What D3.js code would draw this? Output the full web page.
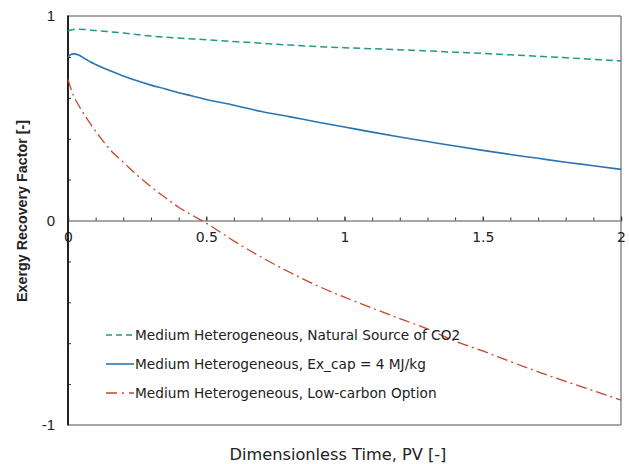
<!DOCTYPE html>
<html>
<head>
<meta charset="utf-8">
<script src="https://cdn.jsdelivr.net/npm/d3@7/dist/d3.min.js"></script>
<style>
  html, body { margin: 0; padding: 0; background: #fff; }
  svg { display: block; }
</style>
</head>
<body>
<svg id="chart" width="629" height="464"></svg>
<script>
// ---- data ----
const naturalX = [0, 0.03, 0.06, 0.1, 0.2, 0.3, 0.4, 0.5, 0.6, 0.7, 0.8, 0.9, 1.0, 1.2, 1.4, 1.5, 1.6, 1.8, 2.0];
const naturalY = [0.928, 0.935, 0.934, 0.929, 0.917, 0.902, 0.892, 0.884, 0.875, 0.867, 0.858, 0.851, 0.845, 0.835, 0.823, 0.817, 0.81, 0.796, 0.78];

const excapX = [0, 0.01, 0.02, 0.04, 0.06, 0.08, 0.1, 0.15, 0.2, 0.25, 0.3, 0.35, 0.4, 0.45, 0.5, 0.6, 0.7, 0.8, 0.9, 1.0, 1.1, 1.2, 1.3, 1.4, 1.5, 1.6, 1.7, 1.8, 1.9, 2.0];
const excapY = [0.80, 0.812, 0.815, 0.808, 0.792, 0.776, 0.763, 0.733, 0.707, 0.683, 0.662, 0.644, 0.625, 0.609, 0.592, 0.564, 0.533, 0.508, 0.482, 0.457, 0.432, 0.408, 0.386, 0.364, 0.343, 0.323, 0.304, 0.285, 0.268, 0.25];

const lowcX = [0, 0.02, 0.04, 0.08, 0.12, 0.16, 0.2, 0.25, 0.3, 0.35, 0.4, 0.45, 0.5, 0.6, 0.7, 0.8, 0.9, 1.0, 1.1, 1.2, 1.3, 1.4, 1.5, 1.6, 1.7, 1.8, 1.9, 2.0];
const lowcY = [0.69, 0.61, 0.56, 0.475, 0.4, 0.335, 0.285, 0.222, 0.165, 0.114, 0.065, 0.025, -0.013, -0.1, -0.18, -0.252, -0.318, -0.375, -0.428, -0.48, -0.53, -0.59, -0.638, -0.69, -0.74, -0.787, -0.832, -0.878];

const seriesNames = [
  "Medium Heterogeneous, Natural Source of CO2",
  "Medium Heterogeneous, Ex_cap = 4 MJ/kg",
  "Medium Heterogeneous, Low-carbon Option"
];
const xTickLabels = [0, 0.5, 1, 1.5, 2];
const xMinorTicks = [0, 0.1, 0.2, 0.3, 0.4, 0.5, 0.6, 0.7, 0.8, 0.9, 1.0, 1.1, 1.2, 1.3, 1.4, 1.5, 1.6, 1.7, 1.8, 1.9, 2.0];
const yTickLabels = [1, 0, -1];
const yMinorTicks = [-0.8, -0.6, -0.4, -0.2, 0.2, 0.4, 0.6, 0.8];
const xTitle = "Dimensionless Time, PV [-]";
const yTitle = "Exergy Recovery Factor [-]";

// ---- layout ----
const svg = d3.select("#chart");
const L = 68, R = 621, T = 16, B = 425;
const x = d3.scaleLinear().domain([0, 2]).range([L, R]);
const y = d3.scaleLinear().domain([-1, 1]).range([B, T]);

const frameColor = "#8a8a8a";
const textFont = "'DejaVu Sans', sans-serif";

// frame (top, right, bottom)
svg.append("line").attr("x1", L).attr("x2", R).attr("y1", T).attr("y2", T)
  .attr("stroke", frameColor).attr("stroke-width", 1.5);
svg.append("line").attr("x1", R).attr("x2", R).attr("y1", T).attr("y2", B)
  .attr("stroke", frameColor).attr("stroke-width", 1.5);
svg.append("line").attr("x1", L).attr("x2", R).attr("y1", B).attr("y2", B)
  .attr("stroke", frameColor).attr("stroke-width", 1.5);

// x axis at y = 0, ticks pointing up
const xMinorAxis = d3.axisTop(x).tickValues(xMinorTicks).tickSize(3).tickFormat("");
const gx = svg.append("g").attr("transform", `translate(0,${y(0)})`).call(xMinorAxis);
gx.select(".domain").attr("stroke", frameColor).attr("stroke-width", 1.5);
gx.selectAll(".tick line").attr("stroke", "#333").attr("stroke-width", 1);

const xMajorAxis = d3.axisTop(x).tickValues(xTickLabels).tickSize(4).tickFormat("");
const gx2 = svg.append("g").attr("transform", `translate(0,${y(0)})`).call(xMajorAxis);
gx2.select(".domain").remove();
gx2.selectAll(".tick line").attr("stroke", "#333").attr("stroke-width", 1.2);

// x tick labels below axis line
const xLabelAxis = d3.axisBottom(x).tickValues(xTickLabels).tickSize(0).tickPadding(12)
  .tickFormat(d => String(d));
const gxl = svg.append("g").attr("transform", `translate(0,${y(0)})`).call(xLabelAxis);
gxl.select(".domain").remove();
gxl.selectAll(".tick text").attr("font-family", textFont).attr("font-size", 14).attr("fill", "#222");

// y axis (left)
const yMinorAxis = d3.axisRight(y).tickValues(yMinorTicks).tickSize(3).tickFormat("");
const gy = svg.append("g").attr("transform", `translate(${L},0)`).call(yMinorAxis);
gy.select(".domain").remove();
gy.selectAll(".tick line").attr("stroke", "#333").attr("stroke-width", 1);

const yLabelAxis = d3.axisLeft(y).tickValues(yTickLabels).tickSize(0).tickPadding(13)
  .tickFormat(d => String(d));
const gyl = svg.append("g").attr("transform", `translate(${L},0)`).call(yLabelAxis);
gyl.select(".domain").remove();
gyl.selectAll(".tick text").attr("font-family", "'Liberation Sans', Arial, sans-serif")
  .attr("font-size", 15).attr("fill", "#222");

svg.append("line").attr("x1", L).attr("x2", L).attr("y1", T - 0.5).attr("y2", B + 0.5)
  .attr("stroke", "#222").attr("stroke-width", 2);

// series
const line = d3.line().x(d => x(d[0])).y(d => y(d[1])).curve(d3.curveMonotoneX);
const zip = (xs, ys) => xs.map((v, i) => [v, ys[i]]);

const styles = [
  { color: "#1f9988", dash: "7,4", width: 1.5 },
  { color: "#2b74b4", dash: null, width: 1.6 },
  { color: "#c8452d", dash: "11,4,2,4", width: 1.3 }
];
const datasets = [zip(naturalX, naturalY), zip(excapX, excapY), zip(lowcX, lowcY)];

datasets.forEach((ds, i) => {
  const p = svg.append("path").datum(ds).attr("d", line)
    .attr("fill", "none").attr("stroke", styles[i].color)
    .attr("stroke-width", styles[i].width);
  if (styles[i].dash) p.attr("stroke-dasharray", styles[i].dash);
});

// legend
const legY = [335, 364, 393];
seriesNames.forEach((name, i) => {
  const l = svg.append("line").attr("x1", 106).attr("x2", 134).attr("y1", legY[i]).attr("y2", legY[i])
    .attr("stroke", styles[i].color).attr("stroke-width", styles[i].width);
  if (i === 0) l.attr("stroke-dasharray", "6,4");
  if (i === 2) l.attr("stroke-dasharray", "11,5,2,5");
  svg.append("text").attr("x", 135).attr("y", legY[i]).attr("dy", "0.36em")
    .attr("font-family", textFont).attr("font-size", 13.7).attr("fill", "#222")
    .text(name);
});

// axis titles
svg.append("text").attr("x", 338).attr("y", 460).attr("text-anchor", "middle")
  .attr("font-family", textFont).attr("font-size", 16.2).attr("fill", "#222")
  .text(xTitle);
svg.append("text").attr("transform", `translate(27,211) rotate(-90)`)
  .attr("text-anchor", "middle")
  .attr("font-family", "'Liberation Sans', Arial, sans-serif").attr("font-weight", "bold")
  .attr("font-size", 14.3).attr("fill", "#222")
  .text(yTitle);
</script>
</body>
</html>
